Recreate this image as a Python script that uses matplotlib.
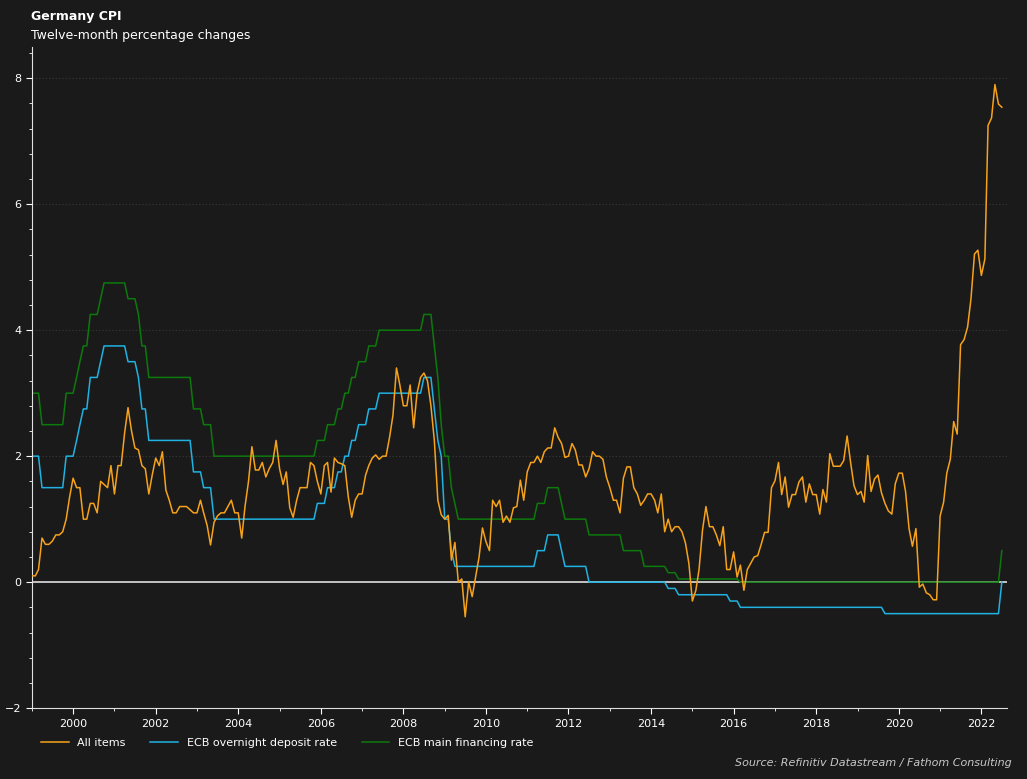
import matplotlib
matplotlib.use("Agg")
import matplotlib.pyplot as plt
import matplotlib.dates as mdates
import numpy as np
import pandas as pd

cpi = [
 0.1,0.1,0.2,0.7,0.6,0.6,0.65,0.75,0.75,0.8,1.0,1.35,
 1.65,1.5,1.5,1.0,1.0,1.25,1.25,1.1,1.6,1.55,1.5,1.85,
 1.4,1.85,1.85,2.37,2.77,2.4,2.13,2.1,1.85,1.8,1.4,1.7,
 1.97,1.85,2.07,1.46,1.3,1.1,1.1,1.2,1.2,1.2,1.15,1.1,
 1.1,1.3,1.1,0.9,0.59,0.95,1.05,1.1,1.1,1.2,1.3,1.1,
 1.1,0.7,1.2,1.6,2.15,1.78,1.78,1.9,1.67,1.8,1.9,2.25,
 1.8,1.55,1.75,1.18,1.03,1.3,1.5,1.5,1.5,1.9,1.85,1.6,
 1.4,1.85,1.9,1.43,1.97,1.9,1.88,1.85,1.35,1.03,1.3,1.4,
 1.4,1.7,1.85,1.97,2.02,1.95,2.0,2.0,2.3,2.65,3.4,3.13,
 2.8,2.8,3.13,2.45,3.0,3.25,3.32,3.2,2.8,2.25,1.3,1.07,
 1.0,1.06,0.35,0.63,0.0,0.05,-0.55,0.0,-0.23,0.08,0.4,0.86,
 0.64,0.5,1.3,1.2,1.3,0.95,1.05,0.95,1.18,1.2,1.62,1.3,
 1.75,1.9,1.9,2.0,1.9,2.07,2.13,2.13,2.45,2.3,2.2,1.98,
 2.0,2.2,2.1,1.86,1.86,1.67,1.8,2.07,2.0,2.0,1.95,1.67,
 1.5,1.3,1.3,1.1,1.65,1.83,1.83,1.5,1.4,1.22,1.3,1.4,
 1.4,1.3,1.1,1.4,0.8,1.0,0.8,0.88,0.88,0.8,0.62,0.3,
 -0.3,-0.13,0.2,0.83,1.2,0.88,0.88,0.75,0.58,0.88,0.2,0.2,
 0.48,0.08,0.27,-0.13,0.2,0.3,0.4,0.42,0.6,0.79,0.79,1.5,
 1.61,1.9,1.39,1.67,1.19,1.39,1.39,1.59,1.67,1.27,1.56,1.39,
 1.39,1.08,1.47,1.27,2.04,1.84,1.84,1.84,1.93,2.32,1.9,1.53,
 1.39,1.44,1.27,2.01,1.44,1.64,1.7,1.42,1.25,1.13,1.08,1.56,
 1.73,1.73,1.44,0.85,0.57,0.85,-0.08,-0.03,-0.17,-0.2,-0.28,-0.28,
 1.05,1.27,1.73,1.95,2.55,2.35,3.77,3.85,4.05,4.5,5.21,5.27,
 4.87,5.13,7.25,7.37,7.9,7.59,7.54]

mro_dates = ["1999-01","1999-04","1999-11","2000-02","2000-03","2000-04","2000-06","2000-09","2000-10",
             "2001-05","2001-08","2001-09","2001-11","2002-12","2003-03","2003-06","2005-12","2006-03",
             "2006-06","2006-08","2006-10","2006-12","2007-03","2007-06","2008-07","2008-10","2008-11",
             "2008-12","2009-01","2009-03","2009-04","2009-05","2011-04","2011-07","2011-11","2011-12",
             "2012-07","2013-05","2013-11","2014-06","2014-09","2016-03","2022-07"]
mro_vals = [3.0,2.5,3.0,3.25,3.5,3.75,4.25,4.5,4.75,4.5,4.25,3.75,3.25,2.75,2.5,2.0,2.25,2.5,
            2.75,3.0,3.25,3.5,3.75,4.0,4.25,3.75,3.25,2.5,2.0,1.5,1.25,1.0,1.25,1.5,1.25,1.0,
            0.75,0.5,0.25,0.15,0.05,0.0,0.5]
dep_dates = ["1999-01","1999-04","1999-11","2000-02","2000-03","2000-04","2000-06","2000-09","2000-10",
             "2001-05","2001-08","2001-09","2001-11","2002-12","2003-03","2003-06","2005-12","2006-03",
             "2006-06","2006-08","2006-10","2006-12","2007-03","2007-06","2008-07","2008-10","2008-11",
             "2008-12","2009-01","2009-03","2009-04","2011-04","2011-07","2011-11","2011-12",
             "2012-07","2014-06","2014-09","2015-12","2016-03","2019-09","2022-07"]
dep_vals = [2.0,1.5,2.0,2.25,2.5,2.75,3.25,3.5,3.75,3.5,3.25,2.75,2.25,1.75,1.5,1.0,1.25,1.5,
            1.75,2.0,2.25,2.5,2.75,3.0,3.25,2.75,2.25,2.0,1.0,0.5,0.25,0.5,0.75,0.5,0.25,
            0.0,-0.1,-0.2,-0.3,-0.4,-0.5,0.0]

months = pd.date_range("1999-01-01", periods=len(cpi), freq="MS")
def monthly(dates, vals):
    s = pd.Series(vals, index=pd.to_datetime(dates))
    return s.reindex(months, method="ffill")
mro = monthly(mro_dates, mro_vals)
dep = monthly(dep_dates, dep_vals)

BG = "#1a1a1a"
fig = plt.figure(figsize=(10.27, 7.79), dpi=100, facecolor=BG)
ax = fig.add_axes([0.031, 0.091, 0.95, 0.849], facecolor=BG)

for y in [2, 4, 6, 8]:
    ax.axhline(y, color="#3a3a3a", lw=0.8, ls=(0, (1, 2)), zorder=0)
ax.axhline(0, color="#d0d0d0", lw=1.3, zorder=1)

ax.plot(months, cpi, color="#f7a21b", lw=1.1, label="All items", zorder=3)
ax.plot(months, dep.values, color="#1fb2e3", lw=1.1, label="ECB overnight deposit rate", zorder=2)
ax.plot(months, mro.values, color="#0c7a0c", lw=1.1, label="ECB main financing rate", zorder=2)

ax.set_xlim(pd.Timestamp("1999-01-01"), pd.Timestamp("2022-08-20"))
ax.set_ylim(-2, 8.5)
ax.set_yticks([-2, 0, 2, 4, 6, 8])
ax.yaxis.set_minor_locator(matplotlib.ticker.MultipleLocator(0.4))
ax.xaxis.set_major_locator(mdates.YearLocator(2))
ax.xaxis.set_minor_locator(mdates.YearLocator(1))
ax.xaxis.set_major_formatter(mdates.DateFormatter("%Y"))
for s in ["top", "right"]:
    ax.spines[s].set_visible(False)
for s in ["left", "bottom"]:
    ax.spines[s].set_color("#e0e0e0")
ax.tick_params(colors="white", labelsize=8, length=4)
ax.tick_params(which="minor", colors="white", length=2)

fig.text(0.030, 0.979, "Germany CPI", color="white", fontsize=9, fontweight="bold", va="center")
fig.text(0.030, 0.954, "Twelve-month percentage changes", color="white", fontsize=9, va="center")
fig.legend(loc="center left", bbox_to_anchor=(0.030, 0.046), ncol=3, frameon=False,
           labelcolor="white", fontsize=8, handlelength=2.5, columnspacing=2.2,
           handletextpad=0.8)
fig.text(0.985, 0.021, "Source: Refinitiv Datastream / Fathom Consulting", color="#c8c8c8",
         fontsize=8, style="italic", ha="right", va="center")

fig.savefig("out.png", dpi=100, facecolor=BG)
